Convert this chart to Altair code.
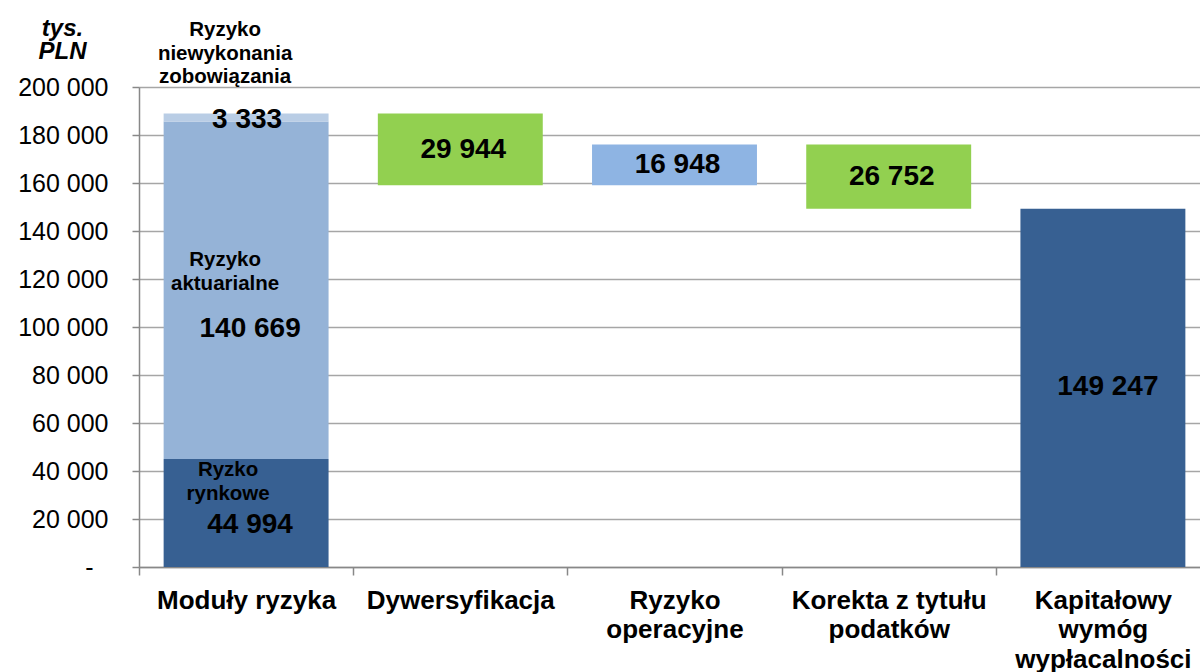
import altair as alt
import pandas as pd

# ---- data ----
categories = ["Moduły ryzyka", "Dywersyfikacja", "Ryzyko|operacyjne",
              "Korekta z tytułu|podatków", "Kapitałowy|wymóg|wypłacalności"]
module_names = ["Ryzko|rynkowe", "Ryzyko|aktuarialne", "Ryzyko|niewykonania|zobowiązania"]
module_values = [44994, 140669, 3333]
module_colors = ["#376092", "#95B3D7", "#B9CDE5"]
step_values = [-29944, 16948, -26752]
step_colors = ["#92D050", "#8EB4E3", "#92D050"]
final_value = 149247
final_color = "#376092"
y_ticks = [0, 20000, 40000, 60000, 80000, 100000, 120000, 140000, 160000, 180000, 200000]


def fmt(v):
    return f"{abs(v):,}".replace(",", " ")


rows = []
cum = 0
for i, (n, v, c) in enumerate(zip(module_names, module_values, module_colors)):
    rows.append(dict(cat=categories[0], seg=f"m{i}", start=cum, end=cum + v,
                     color=c, label=fmt(v), name=n))
    cum += v
for j, (v, c) in enumerate(zip(step_values, step_colors)):
    rows.append(dict(cat=categories[1 + j], seg=f"s{j}", start=cum, end=cum + v,
                     color=c, label=fmt(v), name=""))
    cum += v
rows.append(dict(cat=categories[4], seg="f", start=0, end=final_value,
                 color=final_color, label=fmt(final_value), name=""))
df = pd.DataFrame(rows)
df["mid"] = (df["start"] + df["end"]) / 2

FONT = "Liberation Sans"

x_enc = alt.X("cat:N", sort=categories, title=None,
              scale=alt.Scale(paddingInner=0, paddingOuter=0),
              axis=alt.Axis(labelExpr="split(datum.label, '|')", labelAngle=0,
                            labelFont=FONT, labelFontSize=26, labelFontWeight="bold",
                            labelColor="black", labelLineHeight=29.5, labelPadding=12,
                            labelBaseline="top", labelLimit=0,
                            tickBand="extent", tickSize=8, tickColor="#888888",
                            domainColor="#888888", domainWidth=1.5, tickWidth=1.5,
                            grid=False))

y_scale = alt.Scale(domain=[0, 200000], nice=False)

bars = alt.Chart(df).mark_bar(width=alt.RelativeBandSize(0.77)).encode(
    x=x_enc,
    y=alt.Y("start:Q", scale=y_scale, title=["tys.", "PLN"],
            axis=alt.Axis(values=y_ticks,
                          labelExpr="datum.value == 0 ? '-' : replace(format(datum.value, ',d'), regexp(',', 'g'), ' ')",
                          labelFont=FONT, labelFontSize=25, labelColor="black",
                          labelPadding={"condition": {"test": "datum.value == 0", "value": 39}, "value": 24},
                          tickSize=7, tickColor="#888888", tickWidth=1.5,
                          domainColor="#888888", domainWidth=1.5,
                          gridColor="#A6A6A6", gridWidth=1.5,
                          titleAngle=0, titleFont=FONT, titleFontSize=24,
                          titleFontWeight="bold", titleFontStyle="italic",
                          titleColor="black", titleX=-77, titleY=-71,
                          titleAlign="center", titleBaseline="top", titleLineHeight=23)),
    y2="end:Q",
    color=alt.Color("color:N", scale=None),
)


def txt(seg, field, y_field, dx, dy, size, line_height=None):
    return alt.Chart(df).transform_filter(alt.datum.seg == seg).mark_text(
        font=FONT, fontSize=size, fontWeight="bold",
        color="black", dx=dx, dy=dy, lineBreak="|", baseline="middle",
        align="center", lineHeight=line_height or size * 1.2,
    ).encode(
        x=alt.X("cat:N", sort=categories),
        y=alt.Y(f"{y_field}:Q", scale=y_scale),
        text=f"{field}:N",
    )


layers = [bars,
          # module labels
          txt("m0", "name", "mid", -18, -43, 20.5, 23.5),
          txt("m0", "label", "mid", 4, 12, 28),
          txt("m1", "name", "mid", -21, -30, 20.5, 23.5),
          txt("m1", "label", "mid", 4, 39, 28),
          txt("m2", "name", "end", -21, -83, 20.5, 23.5),
          txt("m2", "label", "mid", 1, 3, 28),
          txt("s0", "label", "mid", 3, 1, 28),
          txt("s1", "label", "mid", 3, 0, 28),
          txt("s2", "label", "mid", 3, 0, 28),
          txt("f", "label", "mid", 5, -1, 28),
          ]

chart = alt.layer(*layers).properties(
    width=1071, height=480,
    autosize=alt.AutoSizeParams(type="none"),
    padding={"left": 139, "top": 87, "right": -10, "bottom": 105},
).configure_view(stroke=None).configure(background="white")

chart.save("out.html", embed_options={"renderer": "svg", "actions": False})
